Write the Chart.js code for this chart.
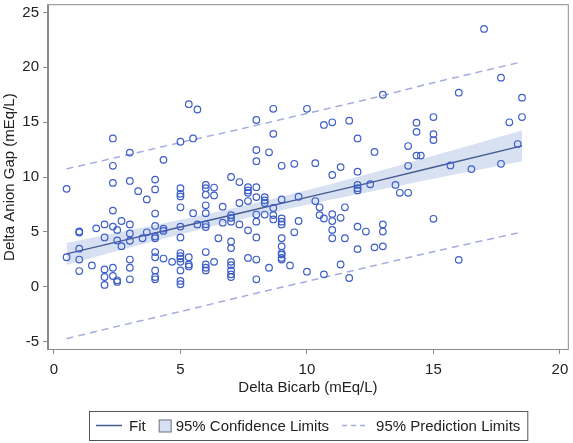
<html>

<head>
    <title>Delta Anion Gap vs Delta Bicarb</title>
    <style>
        html,
        body {
            margin: 0;
            padding: 0;
            background: #fff;
        }
    </style>
</head>

<body>
    <canvas id="chart" width="573" height="443"></canvas>

    <script src="https://cdn.jsdelivr.net/npm/chart.js@4"></script>
    <script>
        var bicarb = [
            5.33, 5.67, 2.33, 3, 5, 5.5, 4.33, 2.33,
            0.5, 2.33, 3, 4, 3.33, 4, 3.67, 5, 5, 5, 6, 6, 6.33, 6, 6.33, 5, 6, 6.67, 5.5, 6, 2.33, 4,
            1, 1, 1.67, 2, 2.33, 2.67, 3, 2.5, 3, 3.67, 4, 4.33, 4, 4, 5, 5, 5.67, 6, 6.67, 2,
            2.5, 2.67, 3, 3.5, 6.5, 1, 0.5, 1, 1, 1.5, 2, 2.33, 2, 2.33, 2, 2.5, 2.5, 3, 3, 3,
            4, 4, 4.33, 4.67, 5, 5, 5, 5, 5.33, 5.33, 5.33, 5, 5, 5, 4, 4, 4, 6, 6, 6,
            6, 6.33, 6, 4.33,
            13, 8.67, 10, 8, 10.67, 11, 11.67, 8.67, 12, 8, 8.5, 12.67, 8, 9, 9.5, 10.33, 11.33, 11, 12, 7,
            7.33, 7.67, 7.67, 7.67, 8, 7.33, 7.67, 8, 8.33, 8.33, 8.33, 9, 9.67, 10.33, 8.67, 10.5, 11.5, 12, 12, 12,
            12.5, 13.5, 7, 7, 7, 7.33, 8, 8, 8.33, 8.67, 8.67, 9, 9, 9, 9.67, 10.5, 10.67, 11, 11, 11.33,
            12, 12.33, 13, 13, 7.67, 9.5, 11, 11, 11.5, 8, 9, 7, 7, 9, 9, 9, 9, 9, 9.33, 12,
            12.67, 13, 7.67, 8, 7, 7, 7, 7, 7, 8.5, 10, 10.67, 11.33, 11.67, 8,
            17, 17.67, 16, 18.5, 15, 14.33, 18.5, 18, 14.33, 15, 15, 14, 14.33, 14.5, 18.33, 14, 15.67, 16.5, 17.67, 13.67,
            14, 15, 16
        ];
        var anionGap = [
            16.64, 16.16, 13.52, 12.23, 13.22, 13.52, 11.57, 11.03,
            8.93, 9.47, 9.65, 9.77, 8.72, 8.88, 7.97, 8.99, 8.48, 8.24, 9.29, 8.99, 9.05, 8.39, 8.33, 7.25, 7.43, 7.31, 6.71, 6.71, 6.95, 6.68,
            4.95, 5.05, 5.33, 5.69, 5.49, 6.0, 5.69, 5.19, 4.86, 4.97, 5.55, 5.1, 4.59, 4.43, 5.49, 4.5, 5.69, 5.69, 5.85, 4.5,
            4.23, 3.71, 4.2, 4.43, 4.43, 3.48, 2.7, 2.49, 1.44, 1.95, 1.59, 1.74, 0.9, 0.99, 0.18, 0.6, 0.45, 0.69, 1.74, 2.49,
            3.17, 2.7, 2.58, 2.28, 3.08, 2.79, 2.58, 2.28, 2.7, 2.04, 1.86, 1.5, 0.54, 0.24, 1.5, 0.9, 0.69, 3.17, 2.04, 1.74,
            1.5, 2.28, 5.45, 5.3,
            17.5, 16.22, 16.22, 15.2, 14.75, 14.99, 15.14, 13.94, 13.52, 12.47, 12.26, 12.29, 11.45, 11.03, 11.21, 11.27, 10.91, 10.19, 10.49, 10.01,
            9.55, 9.08, 8.79, 8.57, 9.08, 7.64, 7.82, 8.18, 8.18, 7.88, 7.64, 7.97, 8.21, 7.82, 7.19, 7.25, 7.25, 9.29, 8.99, 8.79,
            9.35, 9.29, 6.54, 6.29, 5.94, 5.69, 6.59, 5.94, 6.59, 6.54, 6.14, 6.23, 5.94, 5.69, 6.0, 6.54, 6.23, 6.63, 6.0, 6.29,
            5.49, 5.04, 5.69, 5.04, 5.15, 4.97, 5.19, 4.43, 4.43, 4.5, 4.43, 4.14, 3.53, 3.69, 3.08, 2.94, 2.64, 2.49, 1.95, 3.44,
            3.6, 3.69, 2.64, 2.49, 2.28, 1.98, 1.5, 1.14, 0.9, 1.74, 1.38, 1.14, 2.04, 0.81, 0.69,
            23.5, 19.06, 17.69, 17.24, 15.47, 14.96, 15.47, 14.99, 14.12, 13.91, 13.37, 12.83, 11.96, 11.96, 13.01, 11.03, 11.06, 10.73, 11.21, 8.57,
            8.57, 6.2, 2.46
        ];

        // regression fit, confidence and prediction limits, read at these x positions
        var fitX = [0.5, 2.5, 5, 7.5, 10, 12.5, 15, 18.5];
        var fitY = [3.0, 4.1, 5.45, 6.8, 8.15, 9.5, 10.9, 12.85];
        var clLower = [2.0, 3.27, 4.79, 6.21, 7.49, 8.67, 9.85, 11.45];
        var clUpper = [4.0, 4.93, 6.11, 7.39, 8.81, 10.33, 11.95, 14.25];
        var plLower = [-4.72, -3.6, -2.25, -0.85, 0.5, 1.85, 3.2, 5.0];
        var plUpper = [10.75, 11.8, 13.15, 14.45, 15.8, 17.15, 18.6, 20.5];

        var xTicks = [0, 5, 10, 15, 20];
        var yTicks = [-5, 0, 5, 10, 15, 20, 25];
        var legendLabels = ['Fit', '95% Confidence Limits', '95% Prediction Limits'];

        var FONT = '"Liberation Sans", Arial, sans-serif';
        var fitColor = '#475b92';
        var bandColor = '#d8e1f2';
        var predColor = '#a4acdf';
        var markColor = '#3d5fc7';

        function pts(xs, ys) {
            return xs.map(function (x, i) { return { x: x, y: ys[i] }; });
        }

        // legend in a box under the axis, plus the frame around the plot area
        var boxLegend = {
            id: 'boxLegend',
            afterDraw: function (c) {
                var ctx = c.ctx, a = c.chartArea;
                ctx.save();
                ctx.strokeStyle = '#8a8a8a';
                ctx.lineWidth = 1;
                ctx.strokeRect(a.left - 0.5, a.top - 0.5, a.right - a.left + 1, a.bottom - a.top + 1);

                ctx.font = '15px ' + FONT;
                var items = [
                    { kind: 'line', w: 26, gap: 7, text: legendLabels[0] },
                    { kind: 'box', w: 12, gap: 5, text: legendLabels[1] },
                    { kind: 'dash', w: 27, gap: 7, text: legendLabels[2] }
                ];
                var pad = 7, space = 13, total = pad * 2 + space * 2;
                items.forEach(function (it) {
                    it.tw = ctx.measureText(it.text).width;
                    total += it.w + it.gap + it.tw;
                });
                var left = Math.round((a.left + a.right) / 2 - total / 2);
                var top = 411, h = 29, cy = top + h / 2;
                ctx.strokeStyle = '#555';
                ctx.strokeRect(left + 0.5, top + 0.5, total, h);

                var x = left + pad;
                items.forEach(function (it) {
                    if (it.kind === 'box') {
                        ctx.fillStyle = bandColor;
                        ctx.fillRect(x + 0.5, cy - 6 + 0.5, 12, 12);
                        ctx.strokeStyle = '#6a6f80';
                        ctx.lineWidth = 1;
                        ctx.setLineDash([]);
                        ctx.strokeRect(x + 0.5, cy - 6 + 0.5, 12, 12);
                    } else {
                        ctx.strokeStyle = it.kind === 'line' ? fitColor : predColor;
                        ctx.lineWidth = 1.5;
                        ctx.setLineDash(it.kind === 'dash' ? [5, 4] : []);
                        ctx.beginPath();
                        ctx.moveTo(x, cy);
                        ctx.lineTo(x + it.w, cy);
                        ctx.stroke();
                        ctx.setLineDash([]);
                    }
                    x += it.w + it.gap;
                    ctx.fillStyle = '#222';
                    ctx.textBaseline = 'middle';
                    ctx.fillText(it.text, x, cy + 1);
                    x += it.tw + space;
                });
                ctx.restore();
            }
        };

        var lineBase = {
            type: 'line',
            pointRadius: 0,
            pointHoverRadius: 0,
            tension: 0.3
        };

        var my_chart = new Chart(document.getElementById('chart').getContext('2d'), {
            type: 'scatter',
            data: {
                datasets: [
                    Object.assign({}, lineBase, {
                        label: 'CL lower',
                        data: pts(fitX, clLower),
                        borderWidth: 0,
                        borderColor: 'rgba(0,0,0,0)',
                        fill: false,
                        order: 6
                    }),
                    Object.assign({}, lineBase, {
                        label: 'CL upper',
                        data: pts(fitX, clUpper),
                        borderWidth: 0,
                        borderColor: 'rgba(0,0,0,0)',
                        backgroundColor: bandColor,
                        fill: 0,
                        order: 5
                    }),
                    Object.assign({}, lineBase, {
                        label: 'PL lower',
                        data: pts(fitX, plLower),
                        borderColor: predColor,
                        borderWidth: 1.5,
                        borderDash: [7, 5],
                        fill: false,
                        order: 4
                    }),
                    Object.assign({}, lineBase, {
                        label: 'PL upper',
                        data: pts(fitX, plUpper),
                        borderColor: predColor,
                        borderWidth: 1.5,
                        borderDash: [7, 5],
                        fill: false,
                        order: 4
                    }),
                    Object.assign({}, lineBase, {
                        label: legendLabels[0],
                        data: pts(fitX, fitY),
                        borderColor: fitColor,
                        borderWidth: 1.4,
                        tension: 0,
                        fill: false,
                        order: 3
                    }),
                    {
                        label: 'Delta Anion Gap',
                        data: pts(bicarb, anionGap),
                        pointStyle: 'circle',
                        pointRadius: 3.3,
                        pointBorderWidth: 1.2,
                        pointBorderColor: markColor,
                        pointBackgroundColor: 'rgba(255,255,255,0)',
                        order: 1
                    }
                ]
            },
            options: {
                responsive: false,
                maintainAspectRatio: false,
                animation: false,
                events: [],
                layout: { padding: { left: 0, right: 1, top: 1, bottom: 42 } },
                plugins: {
                    legend: { display: false },
                    tooltip: { enabled: false }
                },
                scales: {
                    x: {
                        type: 'linear',
                        min: -0.235,
                        max: 20.31,
                        afterBuildTicks: function (s) { s.ticks = xTicks.map(function (v) { return { value: v }; }); },
                        afterFit: function (s) { s.height = 52; s.paddingLeft = 0; s.paddingRight = 0; },
                        grid: { drawOnChartArea: false, drawTicks: true, tickLength: 5, color: '#8a8a8a' },
                        border: { display: true, color: '#8a8a8a' },
                        ticks: { padding: 7, color: '#222', font: { family: FONT, size: 15 }, maxRotation: 0 },
                        title: {
                            display: true,
                            text: 'Delta Bicarb (mEq/L)',
                            color: '#222',
                            font: { family: FONT, size: 15 },
                            padding: { top: 0, bottom: 4 }
                        }
                    },
                    y: {
                        type: 'linear',
                        min: -5.66,
                        max: 25.66,
                        afterBuildTicks: function (s) { s.ticks = yTicks.map(function (v) { return { value: v }; }); },
                        afterFit: function (s) { s.width = 48; s.paddingTop = 0; s.paddingBottom = 0; },
                        grid: { drawOnChartArea: false, drawTicks: true, tickLength: 5, color: '#8a8a8a' },
                        border: { display: true, color: '#8a8a8a' },
                        ticks: { padding: 4, color: '#222', font: { family: FONT, size: 15 } },
                        title: {
                            display: true,
                            text: 'Delta Anion Gap (mEq/L)',
                            color: '#222',
                            font: { family: FONT, size: 15 },
                            padding: { top: 1, bottom: 0 }
                        }
                    }
                }
            },
            plugins: [boxLegend]
        });
    </script>
</body>

</html>
